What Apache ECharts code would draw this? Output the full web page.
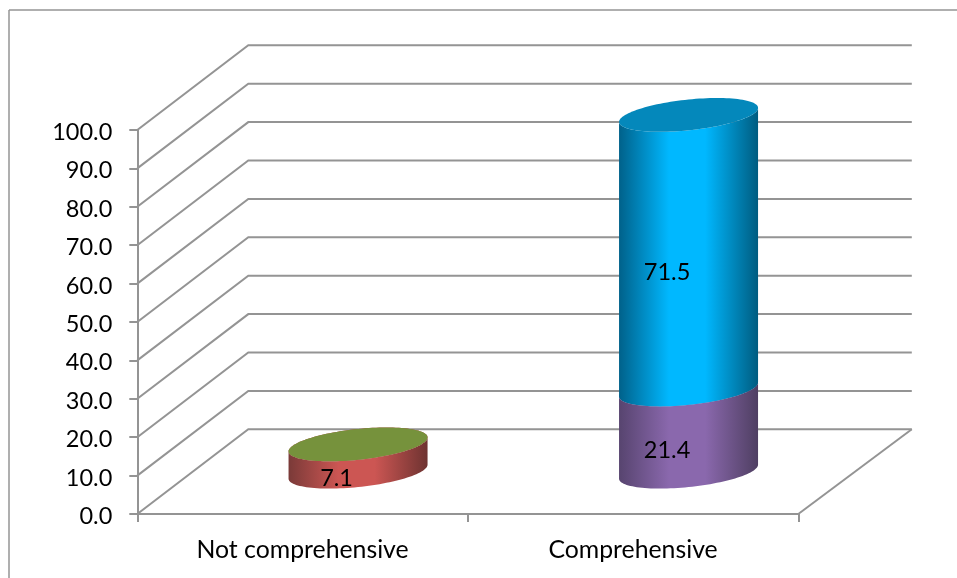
<!DOCTYPE html>
<html>
<head>
<meta charset="utf-8">
<style>html,body{margin:0;padding:0;background:#fff}#chart{width:957px;height:578px}</style>
<script src="https://cdn.jsdelivr.net/npm/echarts@6/dist/echarts.min.js"></script>
</head>
<body>
<div id="chart"></div>
<script>
// Stacked 3D-look cylinders on a cabinet-projected box
var categories = ['Not comprehensive', 'Comprehensive'];
var lowerValues = [7.1, 21.4];
var upperValues = [0, 71.5];
var valueTicks = [0, 10, 20, 30, 40, 50, 60, 70, 80, 90, 100];

// Projection of the box depth
var DEPTH_LEFT = 111, DEPTH_RIGHT = 113.5, DEPTH_UP = 84.7;
// Cylinder cross-section: half width, half height, skew of the long axis
var RX = 69.5, RY = 15.4, SKEW = 7;
var FONT = 'Lato, "Open Sans", sans-serif';
var LINE = '#949494';
var LINE_W = 2;

var lowerSide = ['#cc5653', '#8a68ad'];
var lowerEdgeL = ['#7a3a38', '#57446f'];
var lowerEdgeR = ['#6e3331', '#4f3f62'];
var lowerCap = ['#b04a47', '#7a5c9a'];
var upperSide = ['#76923c', '#00b8ff'];
var upperEdgeL = ['#5a7030', '#00618a'];
var upperEdgeR = ['#4e6228', '#005c80'];
var upperCap = ['#76923c', '#0488bb'];

function ellipsePoint(cx, cy, t) {
  return [cx + RX * Math.cos(t), cy - SKEW * Math.cos(t) - RY * Math.sin(t)];
}

function sideShape(cx, yBottom, yTop) {
  var pts = [], i, n = 60;
  for (i = 0; i <= n; i++) pts.push(ellipsePoint(cx, yBottom, Math.PI + Math.PI * i / n));
  for (i = 0; i <= n; i++) pts.push(ellipsePoint(cx, yTop, Math.PI * i / n * -1));
  return pts;
}

function capShape(cx, cy) {
  var pts = [], i, n = 120;
  for (i = 0; i < n; i++) pts.push(ellipsePoint(cx, cy, 2 * Math.PI * i / n));
  return pts;
}

function renderWall(params, api) {
  var cs = params.coordSys;
  var y = api.coord([0, api.value(0)])[1];
  var left = cs.x, right = cs.x + cs.width;
  var pts = [[left, y], [left + DEPTH_LEFT, y - DEPTH_UP], [right + DEPTH_RIGHT, y - DEPTH_UP]];
  var children = [{
    type: 'polyline',
    shape: { points: pts },
    style: { stroke: LINE, lineWidth: LINE_W, fill: null }
  }];
  if (api.value(0) === 0) {
    // floor's right-hand edge
    children.push({
      type: 'line',
      shape: { x1: right, y1: y, x2: right + DEPTH_RIGHT, y2: y - DEPTH_UP },
      style: { stroke: LINE, lineWidth: LINE_W }
    });
  }
  return { type: 'group', children: children };
}

function makeCylinderRenderer(sideColor, edgeL, edgeR, capColor) {
  return function (params, api) {
    var c = api.value(0), base = api.value(1), top = api.value(2);
    var cx = api.coord([c, 0])[0] + DEPTH_LEFT / 2;
    var yBase = api.coord([c, base])[1] - DEPTH_UP / 2;
    var yTop = api.coord([c, top])[1] - DEPTH_UP / 2;
    var children = [];
    if (top > base) {
      children.push({
        type: 'polygon',
        shape: { points: sideShape(cx, yBase, yTop) },
        style: {
          fill: {
            type: 'linear', x: 0, y: 0, x2: 1, y2: 0,
            colorStops: [
              { offset: 0, color: edgeL[c] },
              { offset: 0.36, color: sideColor[c] },
              { offset: 0.62, color: sideColor[c] },
              { offset: 1, color: edgeR[c] }
            ]
          }
        }
      });
    }
    children.push({
      type: 'polygon',
      shape: { points: capShape(cx, yTop) },
      style: { fill: capColor[c] }
    });
    if (top > base) {
      children.push({
        type: 'text',
        z2: 10,
        style: {
          x: cx - 21.5,
          y: (yBase + yTop) / 2 + 20,
          text: (top - base).toFixed(1),
          font: '23.5px ' + FONT,
          fill: '#000',
          align: 'center',
          verticalAlign: 'middle'
        }
      });
    }
    return { type: 'group', children: children };
  };
}

var lowerData = lowerValues.map(function (v, i) { return [i, 0, v]; });
var upperData = upperValues.map(function (v, i) { return [i, lowerValues[i], lowerValues[i] + v]; });

var chart = echarts.init(document.getElementById('chart'), null, { renderer: 'canvas' });
chart.setOption({
  animation: false,
  backgroundColor: '#ffffff',
  graphic: [
    { type: 'line', shape: { x1: 9, y1: 10, x2: 9, y2: 578 }, style: { stroke: LINE, lineWidth: 1.5 } },
    { type: 'line', shape: { x1: 9, y1: 10, x2: 957, y2: 10 }, style: { stroke: LINE, lineWidth: 1.5 } }
  ],
  grid: { left: 137.3, right: 158.7, top: 130, bottom: 64, containLabel: false },
  xAxis: {
    type: 'category',
    data: categories,
    boundaryGap: true,
    axisLine: { show: true, lineStyle: { color: LINE, width: LINE_W } },
    axisTick: { show: true, length: 8, alignWithLabel: false, lineStyle: { color: LINE, width: LINE_W } },
    axisLabel: { color: '#000', fontFamily: FONT, fontSize: 24.8, margin: 24, interval: 0 }
  },
  yAxis: {
    type: 'value',
    min: 0,
    max: 100,
    interval: 10,
    splitLine: { show: false },
    axisLine: { show: true, lineStyle: { color: LINE, width: LINE_W } },
    axisTick: { show: true, length: 8, lineStyle: { color: LINE, width: LINE_W } },
    axisLabel: {
      color: '#000', fontFamily: FONT, fontSize: 23.5, margin: 25,
      verticalAlign: 'top', lineHeight: 5,
      formatter: function (v) { return v.toFixed(1); }
    }
  },
  series: [
    {
      type: 'custom', coordinateSystem: 'cartesian2d', z: 1, silent: true,
      renderItem: renderWall,
      encode: { y: 0 },
      data: valueTicks.map(function (v) { return [v]; })
    },
    {
      type: 'custom', coordinateSystem: 'cartesian2d', z: 3, silent: true,
      renderItem: makeCylinderRenderer(lowerSide, lowerEdgeL, lowerEdgeR, lowerCap),
      encode: { x: 0, y: 2 },
      data: lowerData
    },
    {
      type: 'custom', coordinateSystem: 'cartesian2d', z: 4, silent: true,
      renderItem: makeCylinderRenderer(upperSide, upperEdgeL, upperEdgeR, upperCap),
      encode: { x: 0, y: 2 },
      data: upperData
    }
  ]
});
</script>
</body>
</html>
